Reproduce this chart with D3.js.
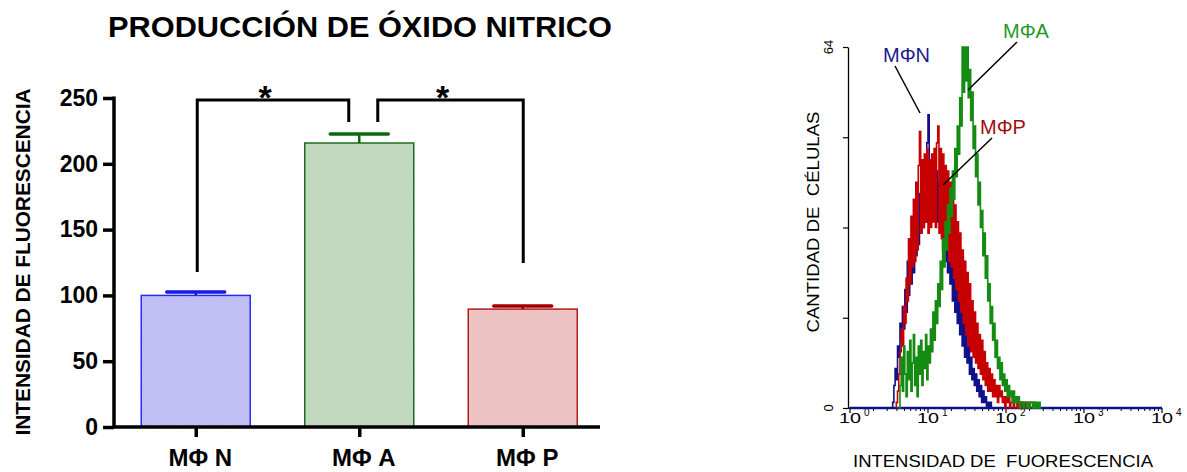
<!DOCTYPE html>
<html>
<head>
<meta charset="utf-8">
<script src="https://cdn.jsdelivr.net/npm/d3@7/dist/d3.min.js"></script>
<style>
  html, body { margin: 0; padding: 0; background: #fff; }
  svg { display: block; }
  text { font-family: "Liberation Sans", Arial, Helvetica, sans-serif; }
</style>
</head>
<body>
<svg id="chart" width="1187" height="472"></svg>
<script>
// ---------- Left chart data ----------
const categories = ["MΦN", "MΦA", "MΦP"];
const barLabels = ["MΦ N", "MΦ A", "MΦ P"];
const means = [100, 215.8, 89.6];
const errors = [2.6, 6.8, 2.4];
const yTicks = [0, 50, 100, 150, 200, 250];
// significance brackets: [fromCategory, toCategory, topValue, leftLegEnd, rightLegEnd, leftOffset, rightOffset]
const brackets = [
  ["MΦN", "MΦA", 248.5, 117.8, 231.8, 1.5, -10.5],
  ["MΦA", "MΦP", 248.5, 231.8, 124.6, 18.5, 0.5]
];

// ---------- Right chart data (flow cytometry histograms, 64 channels/decade) ----------
const histChannelsPerDecade = 64;
const histYTicks = [0, 16, 32, 48, 64];
const histXTicks = [1, 10, 100, 1000, 10000];
const histExponents = ["0", "1", "2", "3", "4"];
const blueStart = 35;
const blueCounts = [1,4,7,5,11,9,15,12,18,14,21,17,26,20,29,22,31,24,33,27,36,29,38,31,40,32,42,33,47,52,44,36,43,34,41,38,42,33,40,31,38,28,35,26,33,24,30,22,27,19,25,17,22,15,20,13,18,11,15,9,13,8,11,6,9,5,7,4,6,3,5,2,4,1,3,1,2,0,1,0,1,0,0,0,0,0,0,0,0,0,0,0,0,0,0,0,0,0,0,0,0,0,0,0,0,1,0];
const redStart = 38;
const redCounts = [1,3,6,10,14,11,18,15,23,19,30,22,34,25,37,26,40,28,43,49,31,44,32,45,33,46,31,44,32,45,33,46,32,47,50,31,46,30,45,29,43,28,42,26,40,25,38,23,36,21,33,19,31,17,28,15,26,13,24,11,22,10,19,9,17,8,15,7,13,6,12,5,10,4,8,3,7,3,6,2,5,2,4,1,4,2,3,1,2,0,2,1,2,0,1,1,0,1,1,0,1,1,0,1,1,0,1,1,1,0,1,1,0,1,0];
const greenStart = 40;
const greenCounts = [0,4,9,3,11,6,2,10,5,12,3,8,13,4,9,2,11,6,12,4,10,7,13,5,11,8,14,10,17,12,19,15,22,18,26,21,30,25,33,28,36,31,39,34,42,37,46,41,50,45,55,50,64,56,64,58,64,55,60,51,56,46,50,41,45,36,40,32,35,27,31,23,27,19,22,15,18,12,15,9,12,7,9,5,8,4,6,3,5,2,4,2,3,1,3,1,2,1,2,0,1,1,0,1,1,0,1,0,1,1,0,1,0,1,0,1,0];
const seriesNames = ["MΦN", "MΦA", "MΦP"];

const svg = d3.select("#chart");
const FONT = '"Liberation Sans", Arial, Helvetica, sans-serif';

// ================= LEFT CHART =================
const y = d3.scaleLinear().domain([0, 250]).range([427, 98]);
const x = d3.scaleBand().domain(categories).range([114, 604.5]).paddingInner(1/3).paddingOuter(1/6);

const barFill = ["#c6c6f6", "#c8dcc6", "#efc8c8"];
const barHatch = ["#8f8fe6", "#8fb88f", "#d99a9a"];
const barStroke = ["#2b2bf0", "#1c6e1c", "#b31c1c"];
const errColor = ["#1717e6", "#0c690c", "#a30000"];

const defs = svg.append("defs");
categories.forEach((c, i) => {
  const p = defs.append("pattern").attr("id", "hatch" + i)
    .attr("patternUnits", "userSpaceOnUse").attr("width", 3).attr("height", 3);
  p.append("rect").attr("width", 3).attr("height", 3).attr("fill", barFill[i]);
  p.append("path").attr("d", "M0,3 L3,0 M-1,1 L1,-1 M2,4 L4,2")
    .attr("stroke", barHatch[i]).attr("stroke-width", 0.5).attr("opacity", 0.7);
});

const left = svg.append("g");

// title
left.append("text").attr("x", 108).attr("y", 37)
  .attr("font-size", 29).attr("font-weight", "bold")
  .attr("textLength", 504).attr("lengthAdjust", "spacingAndGlyphs")
  .text("PRODUCCIÓN DE ÓXIDO NITRICO");

// y axis label
left.append("text").attr("transform", "translate(30,262) rotate(-90)")
  .attr("text-anchor", "middle").attr("font-size", 21).attr("font-weight", "bold")
  .attr("textLength", 347).attr("lengthAdjust", "spacingAndGlyphs")
  .text("INTENSIDAD DE FLUORESCENCIA");

// bars
left.selectAll("rect.bar").data(categories).join("rect").attr("class", "bar")
  .attr("x", d => x(d)).attr("width", x.bandwidth())
  .attr("y", (d, i) => y(means[i])).attr("height", (d, i) => y(0) - y(means[i]))
  .attr("fill", (d, i) => `url(#hatch${i})`)
  .attr("stroke", (d, i) => barStroke[i]).attr("stroke-width", 1.5);

// error bars
const capW = 58;
categories.forEach((c, i) => {
  const cx = x(c) + x.bandwidth() / 2;
  left.append("line").attr("x1", cx).attr("x2", cx)
    .attr("y1", y(means[i])).attr("y2", y(means[i] + errors[i]))
    .attr("stroke", errColor[i]).attr("stroke-width", 2.5);
  left.append("line").attr("x1", cx - capW / 2).attr("x2", cx + capW / 2)
    .attr("y1", y(means[i] + errors[i])).attr("y2", y(means[i] + errors[i]))
    .attr("stroke", errColor[i]).attr("stroke-width", 3.5).attr("stroke-linecap", "round");
});

// y axis
const yAxis = left.append("g").attr("transform", "translate(114,0)")
  .call(d3.axisLeft(y).tickValues(yTicks).tickSize(11).tickPadding(5).tickSizeOuter(0));
yAxis.select(".domain").attr("stroke", "#000").attr("stroke-width", 3.5).attr("d", "M0,96.5V428");
yAxis.selectAll(".tick line").attr("stroke", "#000").attr("stroke-width", 3.5);
yAxis.selectAll(".tick text").attr("font-size", 23).attr("font-weight", "bold")
  .attr("font-family", FONT).attr("fill", "#000");

// x axis
const xAxis = left.append("g").attr("transform", "translate(0,427)")
  .call(d3.axisBottom(d3.scalePoint().domain(categories).range([x(categories[0]) + x.bandwidth()/2, x(categories[2]) + x.bandwidth()/2]))
    .tickSize(10).tickSizeOuter(0).tickFormat((d, i) => barLabels[i]).tickPadding(19));
xAxis.select(".domain").attr("stroke", "#000").attr("stroke-width", 3.5).attr("d", "M112.5,0H600");
xAxis.selectAll(".tick line").attr("stroke", "#000").attr("stroke-width", 3.5);
xAxis.selectAll(".tick text").attr("font-size", 24).attr("font-weight", "bold")
  .attr("font-family", FONT).attr("fill", "#000").attr("dx", 4).attr("dy", 0).attr("y", 39);

// significance brackets
brackets.forEach(b => {
  const x1 = x(b[0]) + x.bandwidth() / 2 + b[5];
  const x2 = x(b[1]) + x.bandwidth() / 2 + b[6];
  const path = d3.path();
  path.moveTo(x1, y(b[3]));
  path.lineTo(x1, y(b[2]));
  path.lineTo(x2, y(b[2]));
  path.lineTo(x2, y(b[4]));
  left.append("path").attr("d", path.toString()).attr("fill", "none")
    .attr("stroke", "#000").attr("stroke-width", 3);
  left.append("text").attr("x", (x1 + x2) / 2 - 8).attr("y", 109)
    .attr("text-anchor", "middle").attr("font-size", 34).attr("font-weight", "bold").text("*");
});

// ================= RIGHT CHART =================
const xh = d3.scaleLog().domain([1, 10000]).range([850, 1162]);
const yh = d3.scaleLinear().domain([0, 64]).range([408, 47]);
const right = svg.append("g");

defs.append("clipPath").attr("id", "histClip").append("rect")
  .attr("x", 849).attr("y", 46).attr("width", 315).attr("height", 364);

// axes
const yAxisR = right.append("g").attr("transform", "translate(848,0)")
  .call(d3.axisLeft(yh).tickValues(histYTicks).tickSize(5).tickFormat(() => "").tickSizeOuter(0));
yAxisR.select(".domain").attr("stroke", "#000").attr("stroke-width", 1.3);
yAxisR.selectAll(".tick line").attr("stroke", "#000").attr("stroke-width", 1.2);

[0, 64].forEach(v => {
  right.append("text").attr("transform", `translate(833,${yh(v)}) rotate(-90)`)
    .attr("text-anchor", "middle").attr("font-size", 13).text(String(v));
});

const minorTicks = [];
for (let d = 0; d < 4; d++) for (let k = 2; k <= 9; k++) minorTicks.push(k * Math.pow(10, d));
right.selectAll("line.minor").data(minorTicks).join("line").attr("class", "minor")
  .attr("x1", d => xh(d)).attr("x2", d => xh(d)).attr("y1", 408).attr("y2", 411)
  .attr("stroke", "#000").attr("stroke-width", 1);
right.selectAll("line.major").data(histXTicks).join("line").attr("class", "major")
  .attr("x1", d => xh(d)).attr("x2", d => xh(d)).attr("y1", 408).attr("y2", 413)
  .attr("stroke", "#000").attr("stroke-width", 1.2);
right.append("line").attr("x1", 848).attr("x2", 1162).attr("y1", 408).attr("y2", 408)
  .attr("stroke", "#000").attr("stroke-width", 1.3);

histXTicks.forEach((v, i) => {
  const t = right.append("text").attr("x", xh(v) - 11).attr("y", 423).attr("font-size", 15)
    .attr("fill", "#000");
  t.append("tspan").attr("textLength", 22).attr("lengthAdjust", "spacingAndGlyphs").text("10");
  t.append("tspan").attr("dx", 3).attr("dy", -7).attr("font-size", 10).text(histExponents[i]);
});

// axis labels
right.append("text").attr("x", 853).attr("y", 467).attr("font-size", 17)
  .attr("textLength", 300).attr("lengthAdjust", "spacingAndGlyphs")
  .style("white-space", "pre")
  .text("INTENSIDAD DE  FUORESCENCIA");
right.append("text").attr("transform", "translate(819,222) rotate(-90)")
  .attr("text-anchor", "middle").attr("font-size", 17)
  .attr("textLength", 221).attr("lengthAdjust", "spacingAndGlyphs")
  .style("white-space", "pre")
  .text("CANTIDAD DE  CÉLULAS");

// histograms
const histLine = d3.line().x(d => xh(Math.pow(10, d[0] / histChannelsPerDecade))).y(d => yh(d[1]))
  .curve(d3.curveStepAfter);
function histPoints(start, counts) {
  const pts = [[start, 0]];
  counts.forEach((v, i) => pts.push([start + i, v]));
  pts.push([start + counts.length, 0]);
  return pts;
}
const histG = right.append("g").attr("clip-path", "url(#histClip)");
const histSeries = [
  { start: blueStart, counts: blueCounts, color: "#10108a" },
  { start: redStart, counts: redCounts, color: "#c60000" },
  { start: greenStart, counts: greenCounts, color: "#148c14" }
];
// baseline of MΦN (zero counts along the whole axis)
histG.append("line").attr("x1", xh(1)).attr("x2", xh(10000)).attr("y1", yh(0)).attr("y2", yh(0))
  .attr("stroke", "#10108a").attr("stroke-width", 2.5);
histSeries.forEach(s => {
  histG.append("path").attr("d", histLine(histPoints(s.start, s.counts)))
    .attr("fill", "none").attr("stroke", s.color).attr("stroke-width", 1.6);
});

// series labels with leader lines
const seriesLabels = [
  { name: seriesNames[0], color: "#1a1a8c", x: 883, y: 62, lx1: 895, ly1: 66, lx2: 920, ly2: 113 },
  { name: seriesNames[1], color: "#1f9a1f", x: 1003, y: 38, lx1: 1017, ly1: 42, lx2: 968, ly2: 90 },
  { name: seriesNames[2], color: "#a00c0c", x: 980, y: 134, lx1: 992, ly1: 138, lx2: 943, ly2: 185 }
];
seriesLabels.forEach(l => {
  right.append("line").attr("x1", l.lx1).attr("y1", l.ly1).attr("x2", l.lx2).attr("y2", l.ly2)
    .attr("stroke", "#000").attr("stroke-width", 1.5);
  right.append("text").attr("x", l.x).attr("y", l.y).attr("font-size", 20)
    .attr("fill", l.color).text(l.name);
});
</script>
</body>
</html>
